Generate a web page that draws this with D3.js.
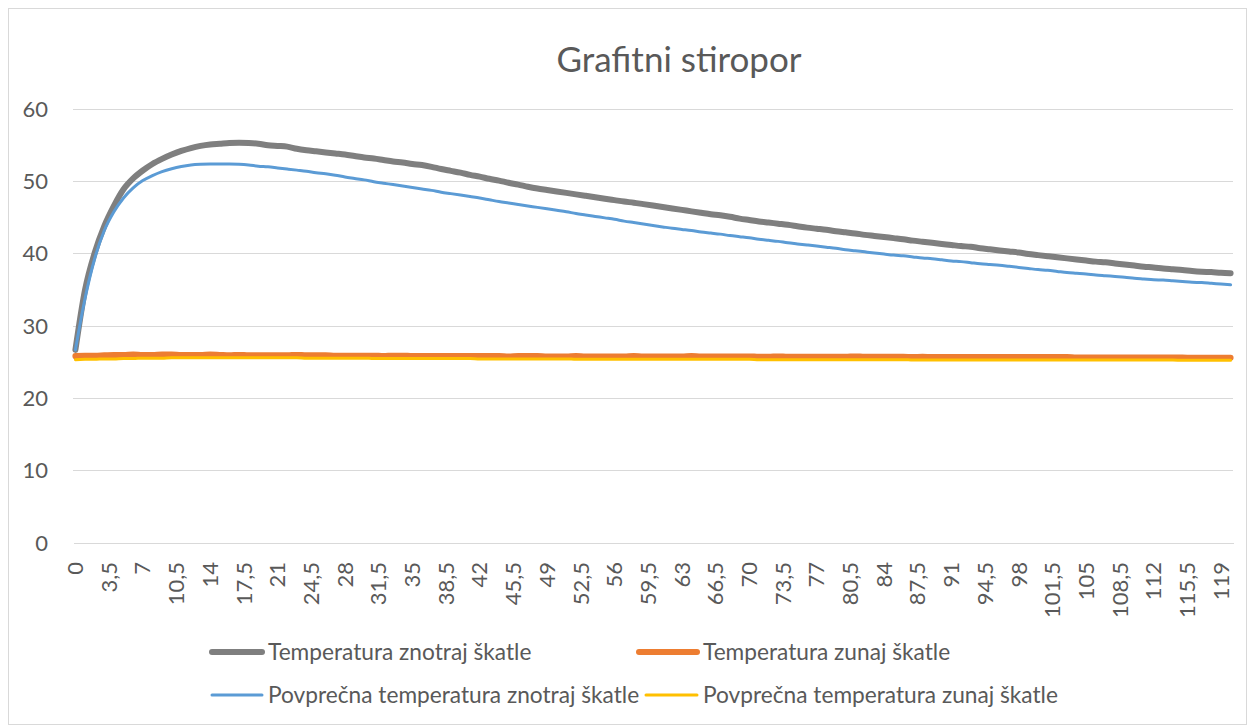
<!DOCTYPE html>
<meta charset="utf-8">
<style>
body { margin: 0; background: #fff; }
text { font-family: Lato, "Open Sans", sans-serif; fill: #595959; }
g.grid line { stroke: #d9d9d9; stroke-width: 1px; shape-rendering: crispEdges; }
g.x.axis path { stroke: #d9d9d9; shape-rendering: crispEdges; }
g.x.axis text { font-size: 22px; }
g.y.axis text { font-size: 22px; }
text.title { font-size: 35px; }
g.legend text { font-size: 22.7px; }
path.series { fill: none; stroke-linejoin: round; stroke-linecap: round; }
</style>
<body>
<div id="chart"></div>
<script src="https://d3js.org/d3.v7.min.js"></script>
<script>
// Grafitni stiropor - temperature over time (minutes)

// categories on the axis: 0, 0.5, 1 ... 120
var categories = d3.range(0, 120.5, 0.5);
var tickValues = [0, 3.5, 7, 10.5, 14, 17.5, 21, 24.5, 28, 31.5, 35, 38.5, 42, 45.5, 49,
  52.5, 56, 59.5, 63, 66.5, 70, 73.5, 77, 80.5, 84, 87.5, 91, 94.5, 98, 101.5, 105,
  108.5, 112, 115.5, 119];
var yTicks = [0, 10, 20, 30, 40, 50, 60];

// readings, one per minute (0..120)
var minutes = d3.range(0, 121);

var tempInside = [
  26.7, 35.0, 40.1, 43.8, 46.6, 48.9, 50.4, 51.5, 52.4, 53.1,
  53.7, 54.2, 54.6, 54.9, 55.1, 55.2, 55.3, 55.35, 55.3, 55.2,
  55.0, 54.9, 54.8, 54.5, 54.3, 54.15, 54.0, 53.85, 53.7, 53.5,
  53.3, 53.15, 52.95, 52.75, 52.6, 52.4, 52.25, 52.0, 51.7, 51.45,
  51.2, 50.9, 50.65, 50.35, 50.1, 49.8, 49.55, 49.25, 49.0, 48.8,
  48.6, 48.4, 48.2, 48.0, 47.8, 47.6, 47.4, 47.2, 47.05, 46.85,
  46.65, 46.45, 46.25, 46.05, 45.85, 45.65, 45.45, 45.3, 45.1, 44.85,
  44.65, 44.45, 44.3, 44.15, 44.0, 43.8, 43.6, 43.45, 43.3, 43.1,
  42.95, 42.8, 42.6, 42.45, 42.3, 42.15, 42.0, 41.8, 41.65, 41.5,
  41.35, 41.2, 41.05, 40.95, 40.75, 40.6, 40.45, 40.3, 40.15, 39.95,
  39.8, 39.65, 39.5, 39.35, 39.2, 39.05, 38.9, 38.8, 38.65, 38.5,
  38.35, 38.2, 38.1, 37.95, 37.85, 37.75, 37.6, 37.5, 37.45, 37.35,
  37.3];

var tempOutside = [
  25.85, 25.9, 25.9, 25.95, 26.0, 26.0, 26.05, 26.0, 26.0, 26.05,
  26.05, 26.0, 26.0, 26.0, 26.05, 26.0, 25.95, 26.0, 25.95, 25.95,
  25.95, 25.95, 25.95, 26.0, 25.95, 25.95, 25.95, 25.9, 25.9, 25.9,
  25.9, 25.9, 25.85, 25.9, 25.9, 25.85, 25.85, 25.85, 25.85, 25.85,
  25.85, 25.85, 25.85, 25.85, 25.85, 25.8, 25.85, 25.85, 25.85, 25.8,
  25.8, 25.8, 25.85, 25.8, 25.8, 25.8, 25.8, 25.8, 25.85, 25.8,
  25.8, 25.8, 25.8, 25.8, 25.85, 25.8, 25.8, 25.8, 25.8, 25.8,
  25.8, 25.75, 25.75, 25.8, 25.75, 25.75, 25.75, 25.75, 25.75, 25.75,
  25.75, 25.8, 25.75, 25.75, 25.75, 25.75, 25.75, 25.7, 25.75, 25.7,
  25.7, 25.7, 25.7, 25.7, 25.7, 25.7, 25.7, 25.7, 25.7, 25.7,
  25.7, 25.7, 25.7, 25.7, 25.65, 25.65, 25.65, 25.65, 25.65, 25.65,
  25.65, 25.65, 25.65, 25.65, 25.65, 25.65, 25.6, 25.6, 25.6, 25.6,
  25.6];

var avgInside = [
  26.7, 33.8, 39.3, 43.2, 45.8, 47.7, 49.1, 50.1, 50.8, 51.35,
  51.75, 52.05, 52.25, 52.35, 52.4, 52.4, 52.4, 52.35, 52.25, 52.1,
  52.0, 51.85, 51.7, 51.55, 51.4, 51.2, 51.05, 50.85, 50.6, 50.4,
  50.2, 49.95, 49.75, 49.55, 49.35, 49.15, 48.95, 48.75, 48.5, 48.3,
  48.1, 47.9, 47.7, 47.45, 47.2, 47.0, 46.8, 46.6, 46.4, 46.2,
  46.0, 45.8, 45.55, 45.35, 45.15, 44.95, 44.75, 44.5, 44.3, 44.1,
  43.9, 43.7, 43.5, 43.35, 43.2, 43.0, 42.85, 42.7, 42.5, 42.35,
  42.2, 42.0, 41.85, 41.7, 41.5, 41.35, 41.2, 41.05, 40.9, 40.75,
  40.55, 40.4, 40.25, 40.1, 39.95, 39.8, 39.7, 39.55, 39.4, 39.3,
  39.15, 39.0, 38.9, 38.75, 38.6, 38.5, 38.4, 38.25, 38.1, 37.95,
  37.8, 37.7, 37.55, 37.4, 37.3, 37.2, 37.05, 36.95, 36.85, 36.75,
  36.6, 36.5, 36.4, 36.35, 36.25, 36.15, 36.05, 36.0, 35.9, 35.8,
  35.7];

var avgOutside = [
  25.35, 25.4, 25.4, 25.45, 25.45, 25.5, 25.5, 25.55, 25.55, 25.55,
  25.6, 25.6, 25.6, 25.6, 25.6, 25.6, 25.6, 25.6, 25.6, 25.6,
  25.6, 25.6, 25.6, 25.6, 25.55, 25.55, 25.55, 25.55, 25.55, 25.55,
  25.55, 25.5, 25.5, 25.5, 25.5, 25.5, 25.5, 25.5, 25.5, 25.5,
  25.5, 25.5, 25.45, 25.45, 25.45, 25.45, 25.45, 25.45, 25.45, 25.45,
  25.45, 25.45, 25.4, 25.4, 25.4, 25.4, 25.4, 25.4, 25.4, 25.4,
  25.4, 25.4, 25.4, 25.4, 25.4, 25.4, 25.4, 25.4, 25.4, 25.4,
  25.4, 25.35, 25.35, 25.35, 25.35, 25.35, 25.35, 25.35, 25.35, 25.35,
  25.35, 25.35, 25.35, 25.35, 25.35, 25.35, 25.35, 25.3, 25.3, 25.3,
  25.3, 25.3, 25.3, 25.3, 25.3, 25.3, 25.3, 25.3, 25.3, 25.3,
  25.3, 25.3, 25.3, 25.3, 25.3, 25.3, 25.3, 25.3, 25.3, 25.3,
  25.3, 25.3, 25.3, 25.3, 25.3, 25.25, 25.25, 25.25, 25.25, 25.25,
  25.25];

var seriesNames = ["Temperatura znotraj škatle", "Temperatura zunaj škatle",
  "Povprečna temperatura znotraj škatle", "Povprečna temperatura zunaj škatle"];
var seriesColors = ["#7f7f7f", "#ed7d31", "#5b9bd5", "#ffc000"];
var seriesWidths = [6, 6, 3, 3];
var seriesValues = [tempInside, tempOutside, avgInside, avgOutside];

var outerWidth = 1255;
var outerHeight = 728;
var plot = {left: 73, right: 1233, top: 109, bottom: 543};

var svg = d3.select("#chart")
    .append("svg")
    .attr("width", outerWidth)
    .attr("height", outerHeight);

// chart frame
svg.append("rect")
    .attr("x", 8.5).attr("y", 8.5)
    .attr("width", 1238).attr("height", 716)
    .attr("fill", "#fff")
    .attr("stroke", "#d9d9d9");

// scales
var x = d3.scaleBand()
    .domain(categories)
    .range([plot.left, plot.right])
    .padding(0);

var y = d3.scaleLinear()
    .domain([0, 60])
    .range([plot.bottom, plot.top]);

function xPos(t) { return x(t) + x.bandwidth() / 2; }

// title
svg.append("text")
    .attr("class", "title")
    .attr("x", 679)
    .attr("y", 72)
    .attr("text-anchor", "middle")
    .text("Grafitni stiropor");

// horizontal gridlines
svg.append("g")
    .attr("class", "grid")
    .selectAll("line")
    .data(yTicks.filter(function (d) { return d > 0; }))
    .enter().append("line")
    .attr("x1", plot.left).attr("x2", plot.right)
    .attr("y1", function (d) { return y(d); })
    .attr("y2", function (d) { return y(d); });

// y axis labels (no axis line)
svg.append("g")
    .attr("class", "y axis")
    .selectAll("text")
    .data(yTicks)
    .enter().append("text")
    .attr("x", 48)
    .attr("y", function (d) { return y(d); })
    .attr("dy", "0.35em")
    .attr("text-anchor", "end")
    .text(function (d) { return d; });

// x axis
var xAxis = d3.axisBottom(x)
    .tickValues(tickValues)
    .tickSize(0)
    .tickSizeOuter(0)
    .tickFormat(function (d) { return String(d).replace(".", ","); });

var gx = svg.append("g")
    .attr("class", "x axis")
    .attr("transform", "translate(0," + plot.bottom + ")")
    .call(xAxis);

gx.selectAll("text")
    .attr("y", 0)
    .attr("x", -19)
    .attr("dy", "0.35em")
    .attr("transform", "rotate(-90)")
    .style("text-anchor", "end");
gx.attr("font-family", null).attr("font-size", null);

// lines
var line = d3.line()
    .x(function (d) { return xPos(d.t); })
    .y(function (d) { return y(d.v); })
    .curve(d3.curveMonotoneX);

seriesValues.forEach(function (vals, i) {
  var pts = minutes.map(function (t, j) { return {t: t, v: vals[j]}; });
  svg.append("path")
      .datum(pts)
      .attr("class", "series")
      .attr("d", line)
      .attr("stroke", seriesColors[i])
      .attr("stroke-width", seriesWidths[i]);
});

// legend
var legendPos = [
  {x: 212, y: 652, tx: 268},
  {x: 639, y: 652, tx: 703},
  {x: 212, y: 695, tx: 268},
  {x: 646, y: 695, tx: 703}
];

var legend = svg.append("g").attr("class", "legend");
seriesNames.forEach(function (name, i) {
  var p = legendPos[i];
  legend.append("line")
      .attr("x1", p.x).attr("x2", p.tx - 6)
      .attr("y1", p.y).attr("y2", p.y)
      .attr("stroke", seriesColors[i])
      .attr("stroke-width", seriesWidths[i])
      .attr("stroke-linecap", "round");
  legend.append("text")
      .attr("x", p.tx)
      .attr("y", p.y)
      .attr("dy", "0.35em")
      .text(name);
});
</script>
